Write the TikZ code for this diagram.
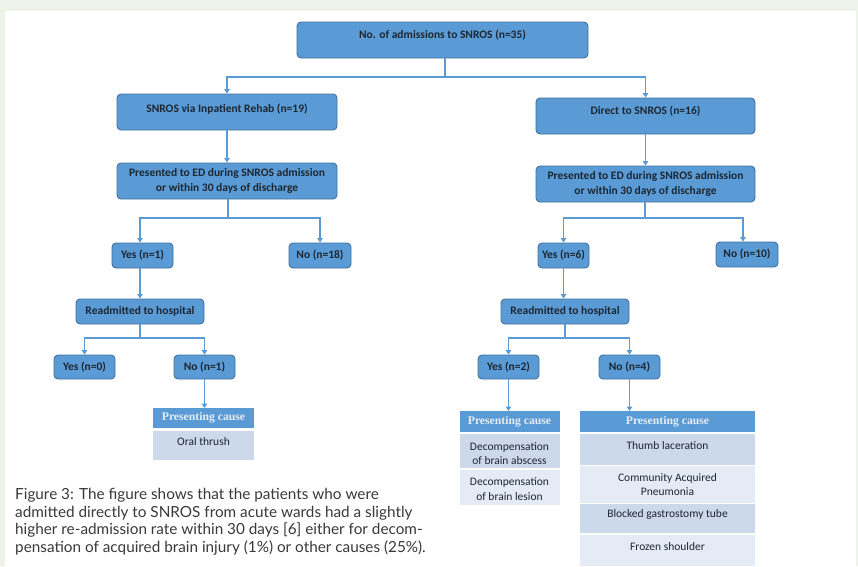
\documentclass[tikz,border=0pt]{standalone}
\usepackage{fontspec}
\setmainfont{Carlito}
\newfontfamily\capfont{Lato}
\newfontfamily\hdrfont{Liberation Serif}
\usetikzlibrary{arrows.meta}
\definecolor{bgcol}{HTML}{EEF3E9}
\definecolor{boxfill}{HTML}{5B9BD5}
\definecolor{boxdraw}{HTML}{41719C}
\definecolor{boxtext}{HTML}{1C2733}
\definecolor{conncol}{HTML}{5B9BD5}
\definecolor{hdrtext}{HTML}{E4EDF7}
\definecolor{rowdark}{HTML}{CCD9EB}
\definecolor{rowlight}{HTML}{E4EBF5}
\definecolor{captext}{HTML}{3A3A3A}
\tikzset{
  box/.style={draw=boxdraw, fill=boxfill, rounded corners=4pt, line width=0.9pt,
    text=boxtext, font=\bfseries\fontsize{11.5}{15}\selectfont, inner sep=0pt, align=center},
  conn/.style={draw=conncol, line width=1.1pt},
  arr/.style={conn, -{Triangle[length=4.5pt,width=5.5pt]}},
  hdr/.style={fill=boxfill, text=hdrtext, font=\hdrfont\bfseries\fontsize{11.7}{12}\selectfont, inner sep=0pt, anchor=north},
  dcell/.style={fill=rowdark, inner sep=0pt, anchor=north},
  lcell/.style={fill=rowlight, inner sep=0pt, anchor=north},
  ctext/.style={text=boxtext, font=\fontsize{11.5}{14.5}\selectfont, inner sep=0pt, align=center},
  captxt/.style={text=captext, font=\capfont\fontsize{15.3}{17}\selectfont, inner sep=0pt, anchor=base west}
}
\begin{document}
\begin{tikzpicture}[x=1pt,y=-1pt]
\useasboundingbox (0,0) rectangle (858,566);
\fill[bgcol] (0,0) rectangle (858,566);
\fill[white] (5,11) rectangle (856,566);

% level 0
\node[box, minimum width=291pt, text height=16pt, text depth=20pt] (top) at (442.5,40) {No. of admissions to SNROS (n=35)};
% level 1
\node[box, minimum width=220pt, text height=18pt, text depth=18pt] (rehab) at (227,112) {SNROS via Inpatient Rehab (n=19)};
\node[box, minimum width=219pt, text height=16pt, text depth=20pt] (direct) at (645.5,116) {Direct to SNROS (n=16)};
% level 2
\node[box, minimum width=220pt, minimum height=36pt] (presL) at (227,181) {Presented to ED during SNROS admission\\or within 30 days of discharge};
\node[box, minimum width=219pt, minimum height=36pt] (presR) at (645.5,184) {Presented to ED during SNROS admission\\or within 30 days of discharge};
% level 3
\node[box, minimum width=61pt, minimum height=25pt] (yesL) at (142.5,255.5) {Yes (n=1)};
\node[box, minimum width=62pt, minimum height=25pt] (noL) at (320,255.5) {No (n=18)};
\node[box, minimum width=51pt, minimum height=25pt] (yesR) at (563.5,255.5) {Yes (n=6)};
\node[box, minimum width=62pt, minimum height=25pt] (noR) at (747,254.5) {No (n=10)};
% level 4
\node[box, minimum width=128pt, minimum height=25pt] (readL) at (140,311.5) {Readmitted to hospital};
\node[box, minimum width=128pt, minimum height=25pt] (readR) at (565,311.5) {Readmitted to hospital};
% level 5
\node[box, minimum width=61pt, minimum height=24pt] (yes0) at (84.5,367) {Yes (n=0)};
\node[box, minimum width=61pt, minimum height=24pt] (no1) at (204.5,367) {No (n=1)};
\node[box, minimum width=61pt, minimum height=24pt] (yes2) at (508.5,367) {Yes (n=2)};
\node[box, minimum width=61pt, minimum height=24pt] (no4) at (629.5,367) {No (n=4)};

% table under No (n=1)
\node[hdr, minimum width=101pt, minimum height=20pt] (hA) at (203.5,408) {Presenting cause};
\node[dcell, minimum width=101pt, minimum height=29pt] (cA1) at (203.5,431) {};
\node[ctext] (tA1) at (203.5,441.5) {Oral thrush};

% table under Yes (n=2)
\node[hdr, minimum width=100pt, minimum height=21pt] (hB) at (509.5,411) {Presenting cause};
\node[dcell, minimum width=100pt, minimum height=34pt] (cB1) at (509.5,434) {};
\node[lcell, minimum width=100pt, minimum height=35pt] (cB2) at (509.5,470) {};
\node[ctext] (tB1) at (509.5,453.5) {Decompensation\\of brain abscess};
\node[ctext] (tB2) at (509.5,489) {Decompensation\\of brain lesion};

% table under No (n=4)
\node[hdr, minimum width=175pt, minimum height=21pt] (hC) at (667.5,411) {Presenting cause};
\node[dcell, minimum width=175pt, minimum height=31pt] (cC1) at (667.5,434) {};
\node[lcell, minimum width=175pt, minimum height=37pt] (cC2) at (667.5,466) {};
\node[dcell, minimum width=175pt, minimum height=29pt] (cC3) at (667.5,504) {};
\node[lcell, minimum width=175pt, minimum height=31pt] (cC4) at (667.5,535) {};
\node[ctext] (tC1) at (667.5,445.5) {Thumb laceration};
\node[ctext] (tC2) at (667.5,484.5) {Community Acquired\\Pneumonia};
\node[ctext] (tC3) at (667.5,514) {Blocked gastrostomy tube};
\node[ctext] (tC4) at (667.5,546.5) {Frozen shoulder};

% connectors
\coordinate (j0) at (445,77);
\draw[conn] (j0 |- top.south) -- (j0);
\draw[arr] (j0) -| (rehab.north);
\draw[arr] (j0) -| (direct.north);

\draw[arr] (rehab.south) -- (rehab.south |- presL.north);
\draw[arr] (direct.south) -- (direct.south |- presR.north);

\coordinate (j1) at (228,218);
\draw[conn] (j1 |- presL.south) -- (j1);
\draw[arr] (j1) -| ([xshift=-2.5pt]yesL.north);
\draw[arr] (j1) -| (noL.north);

\coordinate (j2) at (645,218);
\draw[conn] (j2 |- presR.south) -- (j2);
\draw[arr] (j2) -| (yesR.north);
\draw[arr] (j2) -| ([xshift=-4pt]noR.north);

\draw[arr] ([xshift=-2.5pt]yesL.south) -- ([xshift=-2.5pt]yesL.south |- readL.north);
\draw[arr] (yesR.south) -- (yesR.south |- readR.north);

\coordinate (j3) at (140,338);
\draw[conn] (readL.south) -- (j3);
\draw[arr] (j3) -| (yes0.north);
\draw[arr] (j3) -| (no1.north);

\coordinate (j4) at (565,338);
\draw[conn] (readR.south) -- (j4);
\draw[arr] (j4) -| (yes2.north);
\draw[arr] (j4) -| (no4.north);

\draw[arr] (no1.south) -- (no1.south |- hA.north);
\draw[arr] (yes2.south) -- (yes2.south |- hB.north);
\draw[arr] (no4.south) -- (no4.south |- hC.north);

% caption
\node[captxt] (cap1) at (15,499.5) {Figure 3: The figure shows that the patients who were};
\node[captxt] (cap2) at (15,517) {admitted directly to SNROS from acute wards had a slightly};
\node[captxt] (cap3) at (15,534.5) {higher re-admission rate within 30 days [6] either for decom-};
\node[captxt] (cap4) at (15,552) {pensation of acquired brain injury (1\%) or other causes (25\%).};
\end{tikzpicture}
\end{document}
